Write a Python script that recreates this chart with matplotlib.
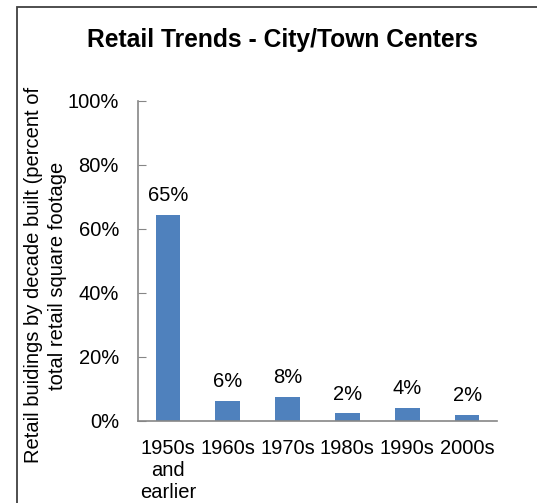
import matplotlib.pyplot as plt
from matplotlib.patches import Rectangle

plt.rcParams['font.family'] = ['Liberation Sans', 'DejaVu Sans']

categories = ['1950s\nand\nearlier', '1960s', '1970s', '1980s', '1990s', '2000s']
values = [64.5, 6.3, 7.5, 2.4, 4.1, 1.9]
labels = ['65%', '6%', '8%', '2%', '4%', '2%']
yticks = [0, 20, 40, 60, 80, 100]

fs = 14.5

fig = plt.figure(figsize=(5.37, 5.03), dpi=100)
ax = fig.add_axes([138 / 537, 1 - 421 / 503, (497 - 138) / 537, (421 - 101) / 503])

# outer chart frame (cropped on right and bottom)
fig.patches.append(Rectangle((17 / 537, -0.05), 1.2, 1 - 7 / 503 + 0.05,
                             transform=fig.transFigure, fill=False,
                             edgecolor='#404040', linewidth=1.3))

x = range(len(categories))
ax.bar(x, values, width=0.41, color='#4F81BD')
for i, (v, lab) in enumerate(zip(values, labels)):
    ax.annotate(lab, (i, v), xytext=(0, 7), textcoords='offset points',
                ha='center', va='bottom', fontsize=fs)

ax.set_xlim(-0.5, len(categories) - 0.5)
ax.set_ylim(0, 100)
ax.set_yticks(yticks)
ax.set_yticklabels([f'{t}%' for t in yticks], fontsize=fs)
ax.set_xticks(list(x))
ax.set_xticklabels(categories, fontsize=fs, linespacing=1.2)
ax.tick_params(axis='x', length=0, pad=13)
ax.tick_params(axis='y', direction='in', length=6, color='#868686', pad=13.7)

for s in ['top', 'right']:
    ax.spines[s].set_visible(False)
for s in ['left', 'bottom']:
    ax.spines[s].set_color('#868686')
    ax.spines[s].set_linewidth(1.2)

ax.set_ylabel('Retail buidings by decade built (percent of\ntotal retail square footage',
              fontsize=fs, linespacing=1.35)
ax.yaxis.set_label_coords(-0.198, 0.455)

fig.text(282 / 537, 1 - 40 / 503, 'Retail Trends - City/Town Centers',
         ha='center', va='center', fontsize=17.7, fontweight='bold')

fig.savefig('out.png', dpi=100)
